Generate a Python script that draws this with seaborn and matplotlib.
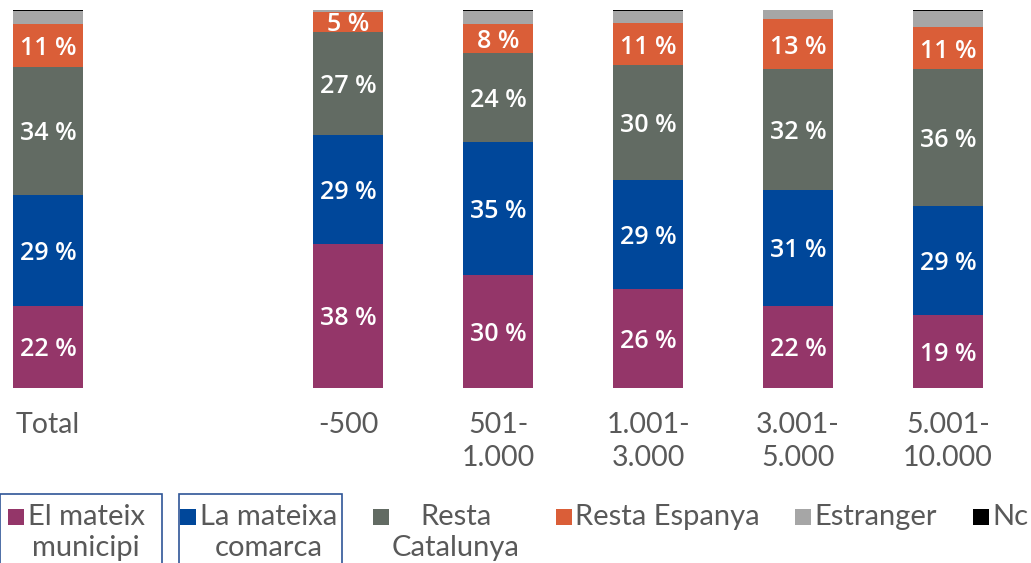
import numpy as np
import pandas as pd
import matplotlib.pyplot as plt
import seaborn as sns
from matplotlib.patches import Patch, Rectangle
from matplotlib.legend_handler import HandlerPatch

# categories (the blank one keeps the gap after "Total")
categories = ["Total", "-500", "501-\n1.000", "1.001-\n3.000", "3.001-\n5.000", "5.001-\n10.000"]
order = ["Total", " ", "-500", "501-\n1.000", "1.001-\n3.000", "3.001-\n5.000", "5.001-\n10.000"]

series_names = ["El mateix\nmunicipi", "La mateixa\ncomarca", "Resta\nCatalunya",
                "Resta Espanya", "Estranger", "Nc"]
el_mateix_municipi = [21.7, 38.1, 29.9, 26.2, 21.7, 19.3]
la_mateixa_comarca = [29.4, 28.8, 35.2, 28.8, 30.7, 28.8]
resta_catalunya = [33.9, 27.3, 23.6, 30.4, 32.0, 36.2]
resta_espanya = [11.4, 5.3, 7.7, 11.1, 13.2, 11.1]
estranger = [3.3, 0.5, 3.3, 3.2, 2.4, 4.3]
nc = [0.3, 0.0, 0.3, 0.3, 0.0, 0.3]
colors = ["#943669", "#00479A", "#626B63", "#DA5E38", "#A6A6A6", "#000000"]
labelled = [True, True, True, True, False, False]

sns.set_theme(style="white")
plt.rcParams['font.family'] = ['Lato', 'DejaVu Sans']
text_grey = "#595959"

values = np.array([el_mateix_municipi, la_mateixa_comarca, resta_catalunya,
                   resta_espanya, estranger, nc])
tops = np.cumsum(values, axis=0)

fig = plt.figure(figsize=(10.31, 5.63), dpi=100)
ax = fig.add_axes([0, 175 / 563, 1, 378 / 563])

# stacked bars: draw cumulative totals from the top series down
for i in reversed(range(len(series_names))):
    df = pd.DataFrame({"cat": categories, "val": tops[i]})
    sns.barplot(data=df, x="cat", y="val", order=order, color=colors[i],
                saturation=1, width=0.47, linewidth=0, errorbar=None, ax=ax)

# percentage labels in the middle of each segment
pos = {c: order.index(c) for c in categories}
for i in range(len(series_names)):
    if not labelled[i]:
        continue
    for j, c in enumerate(categories):
        mid = tops[i][j] - values[i][j] / 2
        ax.text(pos[c], mid, f"{round(values[i][j])} %", ha="center", va="center_baseline",
                color="white", fontsize=18, fontweight="semibold",
                family=['Open Sans', 'DejaVu Sans'])

ax.set_xlim(-0.32, 6.553)
ax.set_ylim(0, 100)
ax.set_xlabel("")
ax.set_ylabel("")
ax.set_yticks([])
sns.despine(ax=ax, left=True, bottom=True)
ax.tick_params(axis="x", length=0, pad=17, labelsize=20.5, labelcolor=text_grey)
for t in ax.get_xticklabels():
    t.set_multialignment("center")
    t.set_linespacing(1.36)

LEG_SIZE = 21
MARK_LIFT = 0.61  # raise of the square (in font sizes) so it sits by the first line


def square_first_line(legend, orig_handle, xdescent, ydescent, width, height, fontsize):
    side = 0.55 * fontsize
    return Rectangle((-xdescent, -ydescent + MARK_LIFT * fontsize), side, side)


handles = [Patch(facecolor=c, edgecolor="none") for c in colors]
labels = [s if "\n" in s else s + "\n " for s in series_names]
leg = fig.legend(handles, labels, ncol=6, loc="upper left",
                 bbox_to_anchor=(8 / 1031, 1 - 504 / 563), frameon=False,
                 fontsize=LEG_SIZE, labelcolor=text_grey, handlelength=0.55, handleheight=0.7,
                 handletextpad=0.12, columnspacing=1.22, borderaxespad=0, borderpad=0,
                 handler_map={Patch: HandlerPatch(patch_func=square_first_line)})
for t in leg.get_texts():
    t.set_multialignment("center")
    t.set_linespacing(1.24)

# outlines round the first two legend entries
fig.canvas.draw()
inv = fig.transFigure.inverted()
for k, (left_pad, right_pad) in enumerate([(28, 17), (21, 5)]):
    bb = leg.get_texts()[k].get_window_extent()
    x0, y0 = inv.transform((bb.x0 - left_pad, -10))
    x1, y1 = inv.transform((bb.x1 + right_pad, bb.y1 + 10))
    fig.patches.append(Rectangle((x0, y0), x1 - x0, y1 - y0, transform=fig.transFigure,
                                 fill=False, edgecolor="#2F5597", linewidth=1.2))

fig.savefig("out.png", dpi=100)
